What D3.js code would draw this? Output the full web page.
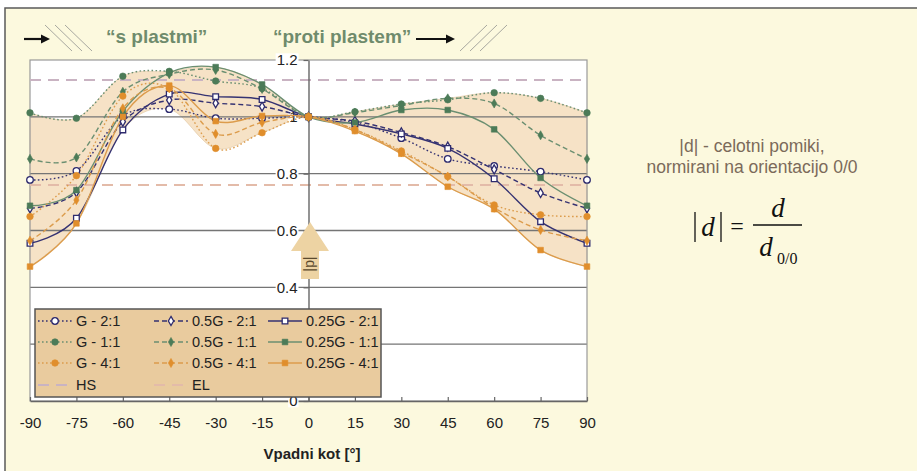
<!DOCTYPE html>
<html><head><meta charset="utf-8">
<script src="https://cdn.jsdelivr.net/npm/d3@7"></script>
<style>html,body{margin:0;padding:0;background:#fff;}svg{display:block;}</style>
</head><body>
<svg id="chart" width="917" height="471"></svg>
<script>
// Dip angle of the layers (degrees)
const angles = [-90, -75, -60, -45, -30, -15, 0, 15, 30, 45, 60, 75, 90];

// |d| normalised displacements, ratio 2:1
const g_2_1   = [0.778, 0.810, 1.003, 1.027, 0.995, 0.995, 1.0, 0.980, 0.925, 0.852, 0.827, 0.807, 0.778];
const g05_2_1 = [0.678, 0.735, 0.983, 1.059, 1.048, 1.036, 1.0, 0.985, 0.945, 0.895, 0.815, 0.732, 0.678];
const g025_2_1= [0.555, 0.643, 0.954, 1.080, 1.071, 1.061, 1.0, 0.975, 0.940, 0.889, 0.782, 0.631, 0.555];
// ratio 1:1
const g_1_1   = [1.014, 0.995, 1.143, 1.160, 1.126, 1.100, 1.0, 1.018, 1.045, 1.060, 1.085, 1.065, 1.014];
const g05_1_1 = [0.852, 0.857, 1.088, 1.150, 1.165, 1.098, 1.0, 1.015, 1.040, 1.065, 1.047, 0.935, 0.852];
const g025_1_1= [0.687, 0.742, 1.020, 1.155, 1.175, 1.114, 1.0, 0.980, 1.024, 1.024, 0.956, 0.785, 0.687];
// ratio 4:1
const g_4_1   = [0.649, 0.793, 1.073, 1.100, 0.889, 0.944, 1.0, 0.955, 0.880, 0.790, 0.690, 0.655, 0.649];
const g05_4_1 = [0.564, 0.707, 1.030, 1.100, 0.940, 0.980, 1.0, 0.955, 0.875, 0.790, 0.680, 0.602, 0.564];
const g025_4_1= [0.473, 0.625, 1.000, 1.110, 0.985, 1.003, 1.0, 0.950, 0.870, 0.754, 0.675, 0.531, 0.473];

// reference levels
const hsLevel = 1.13;
const elLevel = 0.76;

const xTickValues = [-90, -75, -60, -45, -30, -15, 0, 15, 30, 45, 60, 75, 90];
const yTickValues = [0, 0.2, 0.4, 0.6, 0.8, 1, 1.2];
const yGridValues = [0.2, 0.4, 0.6, 0.8, 1.0];

const navy = "#2e2b6e", green = "#4c7b58", orange = "#e08e2c";
const navyLine = "#353272", greenLine = "#6b8f71", orangeLine = "#dc9c4c";
const DOT = "1.6,2.4", DASH = "5,3";

const series = [
  {name: "G - 2:1",     values: g_2_1,    color: navy,   line: navyLine,   dash: DOT,  marker: "circle",  open: true},
  {name: "0.5G - 2:1",  values: g05_2_1,  color: navy,   line: navyLine,   dash: DASH, marker: "diamond", open: true},
  {name: "0.25G - 2:1", values: g025_2_1, color: navy,   line: navyLine,   dash: null, marker: "square",  open: true},
  {name: "G - 1:1",     values: g_1_1,    color: green,  line: greenLine,  dash: DOT,  marker: "circle",  open: false},
  {name: "0.5G - 1:1",  values: g05_1_1,  color: green,  line: greenLine,  dash: DASH, marker: "diamond", open: false},
  {name: "0.25G - 1:1", values: g025_1_1, color: green,  line: greenLine,  dash: null, marker: "square",  open: false},
  {name: "G - 4:1",     values: g_4_1,    color: orange, line: orangeLine, dash: DOT,  marker: "circle",  open: false},
  {name: "0.5G - 4:1",  values: g05_4_1,  color: orange, line: orangeLine, dash: DASH, marker: "diamond", open: false},
  {name: "0.25G - 4:1", values: g025_4_1, color: orange, line: orangeLine, dash: null, marker: "square",  open: false}
];
const refLines = [
  {name: "HS", value: hsLevel, color: "#c9b3c2"},
  {name: "EL", value: elLevel, color: "#e3bba9"}
];

const W = 917, H = 471;
const svg = d3.select("#chart");

// page background and frame
svg.append("rect").attr("width", W).attr("height", H).attr("fill", "#ffffff");
svg.append("rect").attr("x", 5).attr("y", 8).attr("width", W + 20).attr("height", H + 20)
  .attr("fill", "#fcf9de").attr("stroke", "#5a5a5a").attr("stroke-width", 1.5);

const x = d3.scaleLinear().domain([-90, 90]).range([30, 587]);
const y = d3.scaleLinear().domain([0, 1.2]).range([401, 60]);
const curve = d3.curveCatmullRom.alpha(0);

// plot area
svg.append("rect").attr("x", x(-90)).attr("y", y(1.2)).attr("width", x(90) - x(-90)).attr("height", y(0) - y(1.2))
  .attr("fill", "#ffffff");

// envelope of all series
const upper = angles.map((a, i) => d3.max(series, s => s.values[i]));
const lower = angles.map((a, i) => d3.min(series, s => s.values[i]));
const area = d3.area()
  .x((d, i) => x(angles[i]))
  .y0((d, i) => y(lower[i]))
  .y1((d, i) => y(upper[i]))
  .curve(curve);
svg.append("path").attr("d", area(angles)).attr("fill", "#f6e2c6").attr("stroke", "#e6cfae").attr("stroke-width", 0.8);

// horizontal gridlines
svg.append("g").selectAll("line").data(yGridValues).join("line")
  .attr("x1", x(-90)).attr("x2", x(90)).attr("y1", d => y(d)).attr("y2", d => y(d))
  .attr("stroke", "#757575").attr("stroke-width", 1.4);

// plot frame
svg.append("rect").attr("x", x(-90)).attr("y", y(1.2)).attr("width", x(90) - x(-90)).attr("height", y(0) - y(1.2))
  .attr("fill", "none").attr("stroke", "#999999").attr("stroke-width", 1.2);

// HS / EL reference levels
svg.append("g").selectAll("line").data(refLines).join("line")
  .attr("x1", x(-90)).attr("x2", x(90)).attr("y1", d => y(d.value)).attr("y2", d => y(d.value))
  .attr("stroke", d => d.color).attr("stroke-width", 2).attr("stroke-dasharray", "11,7");

const font = "Liberation Sans, Arial, sans-serif";

// x axis (ticks pointing up into the plot)
const xAxis = svg.append("g").attr("transform", `translate(0,${y(0)})`)
  .call(d3.axisBottom(x).tickValues(xTickValues).tickSizeInner(-4).tickSizeOuter(0).tickPadding(16).tickFormat(d => String(d)));
xAxis.select(".domain").attr("stroke", "#666").attr("stroke-width", 1.6);
xAxis.selectAll(".tick line").attr("stroke", "#666").attr("stroke-width", 1.2);
xAxis.selectAll(".tick text").attr("font-family", font).attr("font-size", 15).attr("fill", "#222");

// y axis through 0°
const yAxis = svg.append("g").attr("transform", `translate(${x(0)},0)`)
  .call(d3.axisLeft(y).tickValues(yTickValues).tickSizeInner(5).tickSizeOuter(0).tickPadding(6).tickFormat(d => String(+d.toFixed(1))));
yAxis.select(".domain").attr("stroke", "#666").attr("stroke-width", 1.4);
yAxis.selectAll(".tick line").attr("stroke", "#666").attr("stroke-width", 1.2);
yAxis.selectAll(".tick text").attr("font-family", font).attr("font-size", 15).attr("fill", "#222");
yAxis.selectAll(".tick").each(function () {
  const t = d3.select(this).select("text");
  const b = t.node().getBBox();
  d3.select(this).insert("rect", "text").attr("x", b.x - 1).attr("y", b.y + 2).attr("width", b.width + 2).attr("height", b.height - 4)
    .attr("fill", "#ffffff");
});

// series lines
const line = d3.line().x((d, i) => x(angles[i])).y(d => y(d)).curve(curve);
const linesG = svg.append("g");
series.forEach(s => {
  linesG.append("path").attr("d", line(s.values)).attr("fill", "none")
    .attr("stroke", s.line).attr("stroke-width", 1.4)
    .attr("stroke-dasharray", s.dash);
});

// markers
const symbolType = {circle: d3.symbolCircle, diamond: d3.symbolDiamond, square: d3.symbolSquare};
const symbolSize = {circle: 34, diamond: 24, square: 32};
function marker(g, s, cx, cy) {
  g.append("path").attr("transform", `translate(${cx},${cy})`)
    .attr("d", d3.symbol().type(symbolType[s.marker]).size(symbolSize[s.marker])())
    .attr("fill", s.open ? "#ffffff" : s.color)
    .attr("stroke", s.color).attr("stroke-width", s.open ? 1.3 : 0.6);
}
const markG = svg.append("g");
series.forEach(s => s.values.forEach((v, i) => marker(markG, s, x(angles[i]), y(v))));

// legend
const leg = svg.append("g");
leg.append("rect").attr("x", 35).attr("y", 309).attr("width", 346).attr("height", 88)
  .attr("fill", "#e9cb9e").attr("stroke", "#555").attr("stroke-width", 1.5);
const colX = [38, 154, 268], rowY = [321, 342, 363, 385];
series.forEach((s, k) => {
  const cx = colX[k % 3], cy = rowY[Math.floor(k / 3)];
  leg.append("line").attr("x1", cx).attr("x2", cx + 34).attr("y1", cy).attr("y2", cy)
    .attr("stroke", s.line).attr("stroke-width", 1.4).attr("stroke-dasharray", s.dash);
  marker(leg, s, cx + 17, cy);
  leg.append("text").attr("x", cx + 38).attr("y", cy + 5).text(s.name)
    .attr("font-family", font).attr("font-size", 14.5).attr("fill", "#222");
});
refLines.forEach((r, k) => {
  const cx = colX[k], cy = rowY[3];
  leg.append("line").attr("x1", cx).attr("x2", cx + 34).attr("y1", cy).attr("y2", cy)
    .attr("stroke", r.color).attr("stroke-width", 2).attr("stroke-dasharray", "11,7");
  leg.append("text").attr("x", cx + 38).attr("y", cy + 5).text(r.name)
    .attr("font-family", font).attr("font-size", 14.5).attr("fill", "#222");
});

// |d| arrow on the 0° axis
const ax = x(0) + 1.5;
svg.append("path")
  .attr("d", `M${ax},222 L${ax + 19},251 L${ax + 9},251 L${ax + 9},279 L${ax - 9},279 L${ax - 9},251 L${ax - 19},251 Z`)
  .attr("fill", "#edd3a3");
svg.append("text").attr("transform", `translate(${ax - 4},264) rotate(90)`).attr("text-anchor", "middle")
  .attr("font-family", font).attr("font-size", 14).attr("fill", "#5b4a2e").text("|d|");

// x axis title
svg.append("text").attr("x", 312).attr("y", 459).attr("text-anchor", "middle")
  .attr("font-family", font).attr("font-size", 15).attr("font-weight", "bold").attr("fill", "#222")
  .text("Vpadni kot [°]");

// header: direction of layers
const head = svg.append("g");
function arrow(x1, x2, yy) {
  head.append("line").attr("x1", x1).attr("x2", x2 - 6).attr("y1", yy).attr("y2", yy).attr("stroke", "#111").attr("stroke-width", 2.2);
  head.append("path").attr("d", `M${x2},${yy} L${x2 - 9},${yy - 4.5} L${x2 - 9},${yy + 4.5} Z`).attr("fill", "#111");
}
function hatch(x0, dir) {
  for (let i = 0; i < 3; i++) {
    const a = x0 + i * 10;
    const l = head.append("line").attr("stroke", "#a8a8a0").attr("stroke-width", 1);
    if (dir > 0) l.attr("x1", a).attr("y1", 25).attr("x2", a + 27).attr("y2", 51);
    else l.attr("x1", a).attr("y1", 51).attr("x2", a + 27).attr("y2", 25);
  }
}
arrow(24, 50, 39);
hatch(45, 1);
arrow(416, 455, 39);
hatch(460, -1);
head.append("text").attr("x", 106).attr("y", 43).text("\u201cs plastmi\u201d")
  .attr("font-family", font).attr("font-size", 19).attr("font-weight", "bold").attr("fill", "#6f8b6c");
head.append("text").attr("x", 273).attr("y", 43).text("\u201cproti plastem\u201d")
  .attr("font-family", font).attr("font-size", 19).attr("font-weight", "bold").attr("fill", "#6f8b6c");

// explanation on the right
const note = svg.append("g").attr("font-family", font).attr("font-size", 17.5).attr("fill", "#7b6a5a").attr("text-anchor", "middle");
note.append("text").attr("x", 752).attr("y", 152).text("|d| - celotni pomiki,");
note.append("text").attr("x", 752).attr("y", 173).text("normirani na orientacijo 0/0");

// formula |d| = d / d_0/0
const f = svg.append("g").attr("fill", "#111").attr("font-family", "Liberation Serif, Times New Roman, serif");
f.append("line").attr("x1", 695).attr("x2", 695).attr("y1", 212).attr("y2", 242).attr("stroke", "#111").attr("stroke-width", 1.3);
f.append("line").attr("x1", 721).attr("x2", 721).attr("y1", 212).attr("y2", 242).attr("stroke", "#111").attr("stroke-width", 1.3);
f.append("text").attr("x", 708).attr("y", 236).attr("text-anchor", "middle").attr("font-size", 27).attr("font-style", "italic").text("d");
f.append("text").attr("x", 737).attr("y", 234).attr("text-anchor", "middle").attr("font-size", 24).text("=");
f.append("line").attr("x1", 753).attr("x2", 802).attr("y1", 225).attr("y2", 225).attr("stroke", "#111").attr("stroke-width", 1.3);
f.append("text").attr("x", 778).attr("y", 217).attr("text-anchor", "middle").attr("font-size", 27).attr("font-style", "italic").text("d");
f.append("text").attr("x", 766).attr("y", 256).attr("text-anchor", "middle").attr("font-size", 27).attr("font-style", "italic").text("d");
f.append("text").attr("x", 777).attr("y", 264).attr("font-size", 16).text("0/0");
</script>
</body></html>
